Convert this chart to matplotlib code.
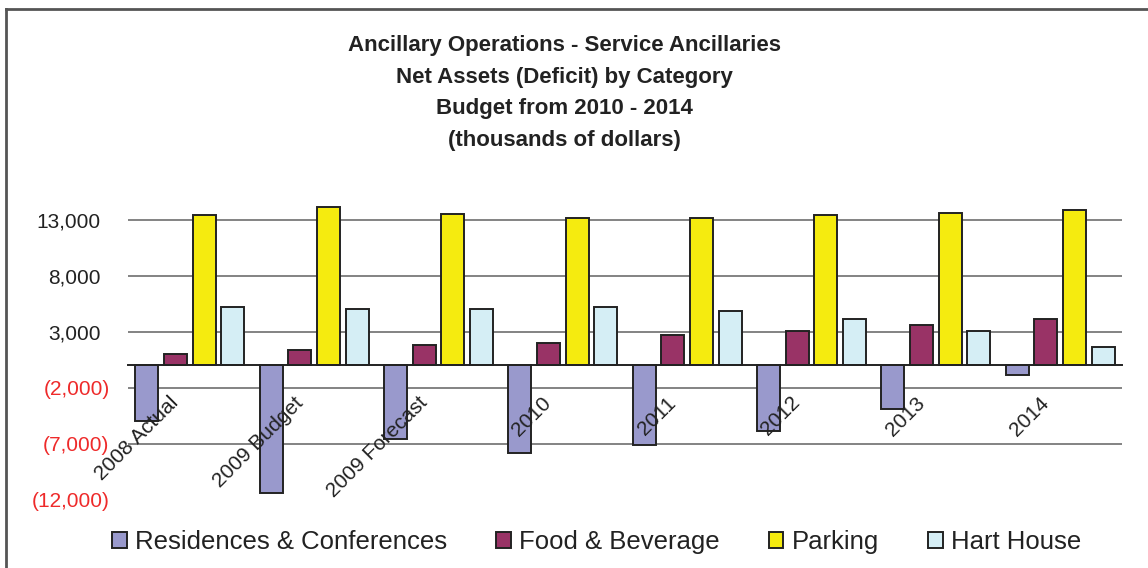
import matplotlib.pyplot as plt
import matplotlib.transforms as mtransforms
from matplotlib.lines import Line2D
import numpy as np

plt.rcParams['font.family'] = ['Liberation Sans', 'DejaVu Sans']

categories = ['2008 Actual', '2009 Budget', '2009 Forecast', '2010', '2011', '2012', '2013', '2014']
series_names = ['Residences & Conferences', 'Food & Beverage', 'Parking', 'Hart House']
residences = [-4950, -11430, -6610, -7860, -7140, -5890, -3930, -890]
food = [1040, 1400, 1790, 1960, 2680, 3040, 3570, 4110]
parking = [13390, 14110, 13540, 13190, 13190, 13390, 13570, 13900]
hart_house = [5180, 5030, 5000, 5180, 4820, 4110, 3040, 1610]
y_ticks = [-12000, -7000, -2000, 3000, 8000, 13000]

colors = ['#9999CC', '#993366', '#F5EB0F', '#D5EEF5']
values = [residences, food, parking, hart_house]

fig = plt.figure(figsize=(11.48, 5.68), dpi=100)
ax = fig.add_axes([0.1112, 0.1202, 0.8664, 0.5522])

x = np.arange(len(categories))
step = 0.23
width = 0.185
for i, (vals, col) in enumerate(zip(values, colors)):
    ax.bar(x + (i - 1.5) * step, vals, width, color=col, edgecolor='#222222',
           linewidth=1.4, label=series_names[i], zorder=2)

ax.set_xlim(-0.5, len(categories) - 0.5)
ax.set_ylim(-12000, 16000)
ax.set_yticks(y_ticks)

# gridlines behind the bars (no line at the bottom limit)
for v in y_ticks[1:]:
    ax.axhline(v, color='#7a7a7a', linewidth=1.3, zorder=1)

def fmt(v):
    if v < 0:
        return '({:,})'.format(-v)
    return '{:,}'.format(v)

ax.set_yticklabels([fmt(v) for v in y_ticks])
ax.tick_params(axis='y', length=0, pad=13, labelsize=15)
shift_pos = mtransforms.ScaledTranslation(-0.09, 0, fig.dpi_scale_trans)
for lab, v in zip(ax.get_yticklabels(), y_ticks):
    if v < 0:
        lab.set_color('#EE2A2A')
    else:
        lab.set_color('#222222')
        lab.set_transform(lab.get_transform() + shift_pos)

ax.set_axisbelow(False)
for s in ['left', 'right', 'top']:
    ax.spines[s].set_visible(False)
ax.spines['bottom'].set_position(('data', 0))
ax.spines['bottom'].set_color('#222222')
ax.spines['bottom'].set_linewidth(1.4)

ax.set_xticks(x)
ax.set_xticklabels(categories, rotation=45, ha='right', va='top',
                   rotation_mode='anchor', fontsize=15, color='#222222')
ax.tick_params(axis='x', length=0, pad=20)
offset = mtransforms.ScaledTranslation(-0.21, 0, fig.dpi_scale_trans)
for lab in ax.get_xticklabels():
    lab.set_transform(lab.get_transform() + offset)

fig.text(0.4913, 1 - 93 / 568,
         'Ancillary Operations - Service Ancillaries\nNet Assets (Deficit) by Category\n'
         'Budget from 2010 - 2014\n(thousands of dollars)',
         ha='center', va='center', fontsize=16, fontweight='bold',
         color='#222222', linespacing=1.65)

fig.legend(loc='center', bbox_to_anchor=(0.5196, 0.046), ncol=4, frameon=False,
           fontsize=18.5, handlelength=0.58, handleheight=0.58, handletextpad=0.32,
           columnspacing=1.9, labelcolor='#222222')

# frame on the left and top of the picture
fig.add_artist(Line2D([6 / 1148, 6 / 1148], [0, 1 - 9 / 568], color='#555555', lw=2))
fig.add_artist(Line2D([6 / 1148, 1], [1 - 9 / 568, 1 - 9 / 568], color='#555555', lw=2))

plt.savefig('out.png', dpi=100)
plt.close()
